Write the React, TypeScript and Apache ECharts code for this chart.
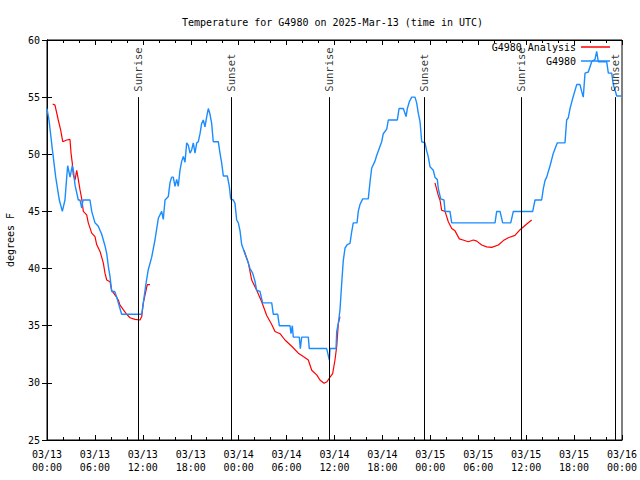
import React, { useEffect, useRef } from "react";
import * as echarts from "echarts";

// Hours since 2025-03-13 00:00 UTC, temperature (F)
const g4980Obs: [number, number][] = [
  [0.0, 54], [0.25, 53], [0.66, 50.5], [1.09, 48], [1.54, 46], [1.92, 45], [2.25, 46], [2.47, 48], [2.59, 49],
  [2.88, 48], [3.17, 49], [3.32, 48.5], [3.51, 47.3], [3.92, 46], [4.13, 46], [4.35, 45.3], [4.51, 46], [5.38, 46],
  [5.6, 45], [6.01, 44], [6.42, 43.7], [6.85, 43], [7.26, 42], [7.48, 41.3], [7.68, 40.2], [7.89, 39.3], [8.1, 38],
  [8.48, 38], [8.73, 37.5], [8.93, 37], [9.35, 36], [11.86, 36], [12.06, 37], [12.4, 38.7], [12.68, 39.9], [13.11, 41],
  [13.52, 42.5], [13.94, 44.4], [14.36, 45], [14.56, 44.3], [14.78, 46], [15.19, 46.3], [15.4, 47.5], [15.61, 48],
  [15.81, 48], [16.03, 47.2], [16.24, 47.8], [16.44, 47.2], [16.65, 48.6], [16.87, 49.4], [17.07, 49.8], [17.28, 49.3],
  [17.49, 51], [17.69, 50.8], [17.91, 50.1], [18.12, 50.4], [18.32, 51], [18.53, 50.1], [18.75, 51], [18.95, 51.1],
  [19.16, 51.8], [19.37, 52.7], [19.57, 53], [19.78, 52.4], [20.0, 53.3], [20.2, 54], [20.41, 53.5], [20.62, 52.7],
  [20.82, 51.1], [21.45, 51.1], [21.66, 50.1], [21.88, 49.2], [22.08, 48.1], [22.58, 48.1], [22.83, 47.2], [23.0, 46.1],
  [23.33, 46], [23.54, 45.7], [23.75, 44.25], [23.96, 44], [24.17, 43.3], [24.38, 42.1], [24.79, 41.3], [25.2, 40.5],
  [25.42, 40], [25.75, 39.6], [26.04, 38.9], [26.25, 38.1], [26.67, 38], [27.0, 37], [28.14, 37], [28.34, 36],
  [28.89, 36], [29.09, 35], [30.43, 35], [30.55, 34.3], [30.72, 35], [30.84, 34], [31.59, 34], [31.72, 33], [31.89, 34],
  [32.72, 34], [32.84, 33], [35.02, 33], [35.22, 32.4], [35.35, 32], [35.44, 33], [36.19, 33], [36.28, 34.5],
  [36.48, 35.2], [36.69, 36.4], [36.9, 38.7], [37.1, 40.7], [37.32, 41.8], [37.6, 42.1], [37.94, 42.2], [38.15, 43.2],
  [38.35, 44], [38.82, 44], [38.98, 45], [39.19, 45.6], [39.53, 46.1], [40.23, 46.1], [40.45, 47.6], [40.66, 48.8],
  [41.07, 49.4], [41.28, 49.9], [41.7, 50.7], [41.91, 51.1], [42.11, 51.8], [42.54, 52.2], [42.74, 53], [43.87, 53],
  [44.08, 54], [44.62, 54], [44.96, 53.3], [45.12, 54], [45.37, 54.6], [45.67, 55], [46.08, 55], [46.29, 54.5],
  [46.49, 53.6], [46.71, 52.85], [46.92, 51.1], [47.33, 51], [47.54, 50.3], [47.74, 49.8], [47.96, 48.9], [48.37, 48.6],
  [48.58, 48], [48.87, 47.8], [49.0, 47], [49.3, 46.1], [49.71, 46], [49.84, 45], [50.46, 45], [50.68, 44], [56.1, 44],
  [56.31, 45], [56.73, 45], [57.06, 44], [58.07, 44], [58.39, 45], [60.82, 45], [61.11, 46], [61.94, 46], [62.15, 47],
  [62.36, 47.7], [62.57, 48], [62.99, 49], [63.4, 50.1], [63.9, 51], [64.86, 51], [65.07, 53], [65.28, 53.2],
  [65.49, 54], [65.83, 54.9], [66.33, 56.1], [66.74, 56.1], [66.95, 55.5], [67.15, 55], [67.37, 57.1], [67.78, 57.2],
  [68.2, 58.1], [68.62, 58.3], [68.83, 59], [69.03, 58.1], [70.08, 58.1], [70.29, 57.1], [70.71, 57.1], [70.91, 56.1],
  [71.13, 55.6], [71.34, 55.1], [71.96, 55.1],
];

const analysisDay1: [number, number][] = [
  [0.71, 54.4], [1.0, 54.3], [1.41, 53], [1.72, 52.1], [1.97, 51.1], [2.47, 51.25], [2.88, 51.3], [3.01, 50.1],
  [3.17, 49.2], [3.29, 48.2], [3.51, 47.75], [3.72, 48.6], [3.92, 47.8], [4.13, 46.9], [4.35, 46.1], [4.55, 45],
  [4.97, 44.7], [5.17, 44], [5.6, 43.1], [6.01, 42.8], [6.22, 42.1], [6.64, 41.5], [7.05, 40.5], [7.26, 39.6],
  [7.48, 39], [7.89, 38.85], [8.1, 38.1], [8.51, 37.7], [8.93, 37.25], [9.14, 36.8], [9.55, 36.4], [9.98, 36],
  [10.39, 35.7], [11.02, 35.55], [11.65, 35.5], [11.86, 35.8], [12.06, 37], [12.4, 38.1], [12.56, 38.6], [12.9, 38.6],
];
const analysisDay2: [number, number][] = [
  [24.67, 41.6], [25.21, 40.5], [25.63, 39], [26.26, 38.1], [26.88, 37.1], [27.51, 35.9], [28.14, 35.1], [28.55, 34.5],
  [29.18, 34.3], [29.8, 33.75], [30.64, 33.2], [31.47, 32.6], [32.09, 32.3], [32.72, 32], [33.15, 31.1], [33.77, 30.7],
  [34.18, 30.25], [34.69, 29.96], [35.06, 30.1], [35.44, 30.5], [35.77, 30.8], [36.06, 32], [36.28, 33.2],
  [36.48, 35.2], [36.69, 35.8],
];
const analysisDay3: [number, number][] = [
  [48.58, 47.5], [49.0, 46.4], [49.21, 46], [49.42, 45.1], [49.84, 45], [50.25, 44.1], [50.68, 43.5], [51.09, 43.3],
  [51.63, 42.6], [52.09, 42.5], [52.76, 42.35], [53.39, 42.5], [53.81, 42.4], [54.43, 42.06], [55.06, 41.9],
  [55.68, 41.85], [56.52, 42.06], [57.14, 42.45], [57.76, 42.7], [58.6, 42.9], [59.24, 43.4], [60.07, 43.9],
  [60.69, 44.25],
];

const sunEvents: [number, string][] = [
  [11.4, "Sunrise"], [23.04, "Sunset"], [35.31, "Sunrise"], [47.21, "Sunset"], [59.35, "Sunrise"], [71.12, "Sunset"],
];
const sunLineTop = 55;

const titleText = "Temperature for G4980 on 2025-Mar-13 (time in UTC)";
const yName = "degrees F";
const FONT = "DejaVu Sans Mono";

export default function App() {
  const ref = useRef<HTMLDivElement>(null);
  useEffect(() => {
    if (!ref.current) return;
    const chart = echarts.init(ref.current, null, { renderer: "svg" });
    const analysisData: any[] = [
      ...analysisDay1,
      [18, null],
      ...analysisDay2,
      [42, null],
      ...analysisDay3,
    ];
    const fmtX = (v: number) => {
      const day = 13 + Math.floor(v / 24);
      const hh = Math.round(v % 24);
      return `03/${day}\n${String(hh).padStart(2, "0")}:00`;
    };
    chart.setOption({
      animation: false,
      backgroundColor: "#fff",
      title: {
        text: titleText,
        left: 177,
        top: 12,
        textStyle: { fontFamily: FONT, fontSize: 10, fontWeight: "normal", color: "#000" },
      },
      legend: [
        {
          data: ["G4980 Analysis"],
          right: 30,
          top: 42,
          orient: "vertical",
          align: "right",
          padding: 0,
          icon: "rect",
          itemWidth: 29,
          itemHeight: 1.5,
          textStyle: { fontFamily: FONT, fontSize: 10, color: "#000" },
        },
        {
          data: ["G4980"],
          right: 30,
          top: 56,
          orient: "vertical",
          align: "right",
          padding: 0,
          icon: "rect",
          itemWidth: 29,
          itemHeight: 1.5,
          textStyle: { fontFamily: FONT, fontSize: 10, color: "#000" },
        },
      ],
      grid: {
        left: 47,
        right: 18,
        top: 40,
        bottom: 40,
        outerBoundsMode: "none",
        containLabel: false,
        show: true,
        borderColor: "#000",
        borderWidth: 1,
        backgroundColor: "transparent",
      },
      xAxis: [
        {
          type: "value",
          min: 0,
          max: 72,
          interval: 6,
          axisLine: { show: true, lineStyle: { color: "#000" } },
          axisTick: { show: true, inside: true, length: 5, lineStyle: { color: "#000" } },
          minorTick: { show: true, splitNumber: 3, length: 3, lineStyle: { color: "#000" } },
          splitLine: { show: false },
          axisLabel: {
            formatter: fmtX,
            fontFamily: FONT,
            fontSize: 10,
            lineHeight: 13,
            color: "#000",
            margin: 8,
          },
        },
        {
          type: "value",
          position: "top",
          min: 0,
          max: 72,
          interval: 6,
          axisLine: { show: true, lineStyle: { color: "#000" } },
          axisTick: { show: true, inside: true, length: 5, lineStyle: { color: "#000" } },
          minorTick: { show: true, splitNumber: 3, length: 3, lineStyle: { color: "#000" } },
          splitLine: { show: false },
          axisLabel: { show: false },
        },
      ],
      yAxis: [
        {
          type: "value",
          min: 25,
          max: 60,
          interval: 5,
          name: yName,
          nameLocation: "middle",
          nameGap: 32,
          nameTextStyle: { fontFamily: FONT, fontSize: 10, color: "#000" },
          axisLine: { show: true, lineStyle: { color: "#000" } },
          axisTick: { show: true, inside: true, length: 5, lineStyle: { color: "#000" } },
          splitLine: { show: false },
          axisLabel: { fontFamily: FONT, fontSize: 10, color: "#000", margin: 7 },
        },
        {
          type: "value",
          position: "right",
          min: 25,
          max: 60,
          interval: 5,
          axisLine: { show: true, lineStyle: { color: "#000" } },
          axisTick: { show: true, inside: true, length: 5, lineStyle: { color: "#000" } },
          splitLine: { show: false },
          axisLabel: { show: false },
        },
      ],
      series: [
        {
          name: "G4980 Analysis",
          type: "line",
          data: analysisData,
          connectNulls: false,
          showSymbol: false,
          symbol: "none",
          color: "#ff0000",
          lineStyle: { color: "#ff0000", width: 1.2 },
          z: 2,
        },
        {
          name: "G4980",
          type: "line",
          data: g4980Obs,
          showSymbol: false,
          symbol: "none",
          color: "#1a8cff",
          lineStyle: { color: "#1a8cff", width: 1.4 },
          z: 3,
        },
        {
          name: "sun",
          type: "scatter",
          data: sunEvents.map(([h, label]) => [h, sunLineTop, label]),
          symbolSize: 1,
          itemStyle: { color: "transparent" },
          silent: true,
          z: 4,
          label: {
            show: true,
            formatter: (p: any) => p.value[2],
            position: "top",
            distance: 5,
            rotate: 90,
            align: "left",
            verticalAlign: "middle",
            fontFamily: FONT,
            fontSize: 10.5,
            color: "#000",
          },
          markLine: {
            silent: true,
            symbol: ["none", "none"],
            label: { show: false },
            lineStyle: { color: "#000", type: "solid", width: 1 },
            data: sunEvents.map(([h]) => [{ coord: [h, 25] }, { coord: [h, sunLineTop] }]),
          },
        },
      ],
    });
    return () => chart.dispose();
  }, []);
  return (
    <div
      ref={ref}
      style={{ position: "absolute", left: 0, top: 0, width: 640, height: 480 }}
    />
  );
}
